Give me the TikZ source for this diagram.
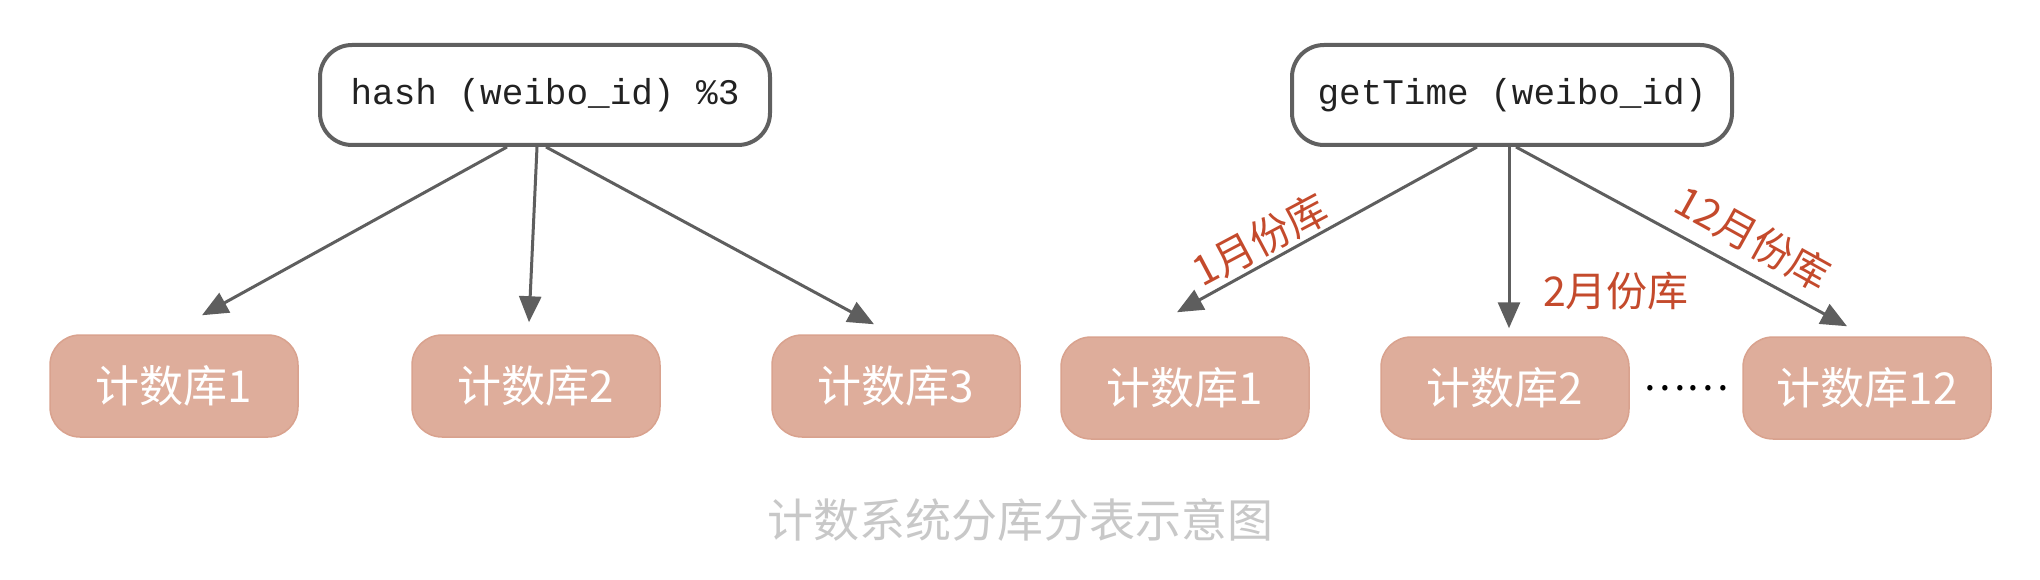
\documentclass[tikz,border=0pt]{standalone}
\usepackage{fontspec}
\newfontfamily\cjk{Noto Sans CJK SC}
\setmonofont{Liberation Mono}
\usetikzlibrary{arrows.meta,calc}
\definecolor{dbfill}{HTML}{DEAD9B}
\definecolor{dbdraw}{HTML}{D9A28E}
\definecolor{topgray}{HTML}{606060}
\definecolor{arrgray}{HTML}{5E5E5E}
\definecolor{textdark}{HTML}{222222}
\definecolor{lblred}{HTML}{C44A2C}
\definecolor{capgray}{HTML}{C8C8C8}
\begin{document}
\begin{tikzpicture}[x=1pt,y=-1pt,
  topbox/.style={draw=topgray, line width=4pt, rounded corners=32pt, fill=white,
    minimum width=450pt, minimum height=100pt, inner sep=0pt,
    font=\ttfamily\fontsize{36}{40}\selectfont, text=textdark},
  dbbox/.style={fill=dbfill, draw=dbdraw, line width=1.5pt, rounded corners=30pt,
    minimum width=248pt, minimum height=102pt, inner sep=0pt, text=white,
    font=\cjk\fontsize{44}{48}\selectfont},
  arr/.style={draw=arrgray, line width=3pt, -{Triangle[length=26pt,width=22pt]}},
  lbl/.style={text=lblred, font=\cjk\fontsize{41}{45}\selectfont, inner sep=0pt},
  captext/.style={text=capgray, font=\cjk\fontsize{46}{50}\selectfont, inner sep=0pt}
]
\useasboundingbox (0,0) rectangle (2040,580);
\fill[white] (0,0) rectangle (2040,580);

% left group
\node[topbox] (h) at (545,95) {hash (weibo\_id) \%3};
\node[dbbox] (c1) at (174,386) {计数库1};
\node[dbbox] (c2) at (536,386) {计数库2};
\node[dbbox] (c3) at (896,386) {计数库3};
\draw[arr] ([xshift=-38pt]h.south) -- ([xshift=28pt,yshift=19pt]c1.north);
\draw[arr] ([xshift=-8pt]h.south) -- ([xshift=-7pt,yshift=12pt]c2.north);
\draw[arr] ([xshift=1pt]h.south) -- ([xshift=-22pt,yshift=10pt]c3.north);

% right group
\node[topbox, minimum width=440pt] (g) at (1512,95) {getTime (weibo\_id)};
\node[dbbox] (r1) at (1185,388) {计数库1};
\node[dbbox] (r2) at (1505,388) {计数库2};
\node[dbbox] (r3) at (1867,388) {计数库12};
\draw[arr] ([xshift=-35pt]g.south) -- ([xshift=-8pt,yshift=24pt]r1.north);
\draw[arr] ([xshift=-3pt]g.south) -- ([xshift=4pt,yshift=8pt]r2.north);
\draw[arr] ([xshift=4pt]g.south) -- ([xshift=-20pt,yshift=10pt]r3.north);

\node[lbl, rotate=28] (l1) at (1260,240) {1月份库};
\node[lbl] (l2) at (1616,291) {2月份库};
\node[lbl, rotate=-29] (l3) at (1753,238) {12月份库};

\node[font=\cjk\fontsize{40}{44}\selectfont, text=black, inner sep=0pt] (dots) at ($(r2.east)!0.5!(r3.west)$) {……};

\node[captext] (caption) at (1020,520) {计数系统分库分表示意图};
\end{tikzpicture}
\end{document}
